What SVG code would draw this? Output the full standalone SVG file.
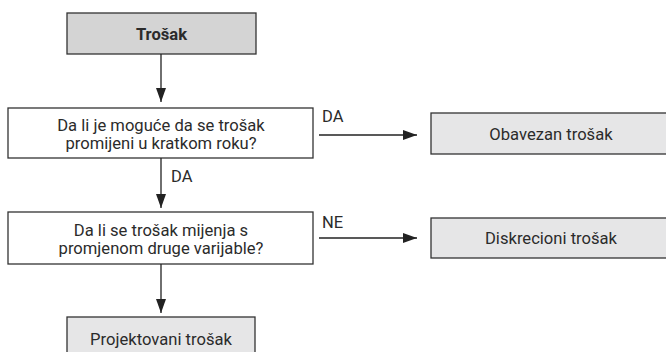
<svg xmlns="http://www.w3.org/2000/svg" width="666" height="352" viewBox="0 0 666 352">
<style>
text{font-family:"Roboto","Liberation Sans",sans-serif;fill:#2b2b2b;font-size:16.6px;text-anchor:middle}
.lbl{text-anchor:start;font-size:16.5px}
.b{stroke:#333;stroke-width:1.3;fill:#fff}
.g{fill:#d4d4d4}
.l{fill:#e6e6e7}
.c{stroke:#222;stroke-width:1.3;fill:none}
</style>
<defs>
<marker id="ah" viewBox="0 0 14 10" refX="14" refY="5" markerWidth="14" markerHeight="10" markerUnits="userSpaceOnUse" orient="auto">
<path d="M0,0 L14,5 L0,10 z" fill="#222"/>
</marker>
</defs>
<g id="n1"><rect class="b g" x="67" y="13" width="189" height="41"/><text x="161.5" y="40" font-weight="bold" font-size="16.5">Trošak</text></g>
<g id="n2"><rect class="b" x="8" y="108" width="305" height="50"/><text x="161" y="131">Da li je moguće da se trošak</text><text x="161" y="149">promijeni u kratkom roku?</text></g>
<g id="n3"><rect class="b l" x="431" y="113" width="240" height="41"/><text x="551" y="140">Obavezan trošak</text></g>
<g id="n4"><rect class="b" x="8" y="212" width="305" height="52"/><text x="161" y="236">Da li se trošak mijenja s</text><text x="161" y="254">promjenom druge varijable?</text></g>
<g id="n5"><rect class="b l" x="431" y="218" width="240" height="40"/><text x="551" y="244">Diskrecioni trošak</text></g>
<g id="n6"><rect class="b l" x="67" y="317" width="188" height="45"/><text x="161" y="345">Projektovani trošak</text></g>
<g id="connectors">
<line class="c" x1="161" y1="54" x2="161" y2="102" marker-end="url(#ah)"/>
<line class="c" x1="161" y1="158" x2="161" y2="208" marker-end="url(#ah)"/>
<line class="c" x1="161" y1="264" x2="161" y2="313" marker-end="url(#ah)"/>
<line class="c" x1="319" y1="135" x2="417" y2="135" marker-end="url(#ah)"/>
<line class="c" x1="319" y1="238" x2="417" y2="238" marker-end="url(#ah)"/>
<text class="lbl" x="322" y="122">DA</text>
<text class="lbl" x="171" y="182">DA</text>
<text class="lbl" x="322" y="228">NE</text>
</g>
</svg>
